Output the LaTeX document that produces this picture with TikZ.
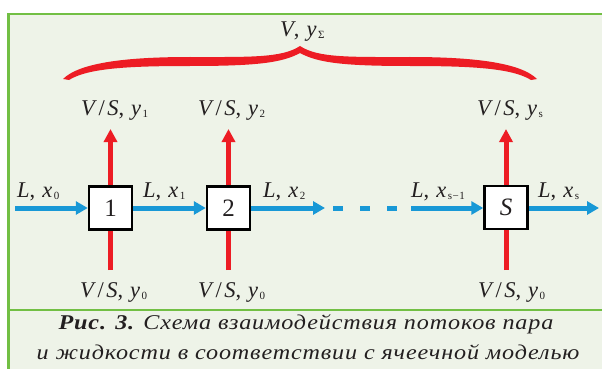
\documentclass[tikz,border=0pt]{standalone}
\usepackage{fontspec}
\setmainfont{Liberation Serif}
\newfontfamily\capfont[FakeStretch=1.15,LetterSpace=4]{Liberation Serif}
\usetikzlibrary{arrows.meta}
\definecolor{cred}{RGB}{237,28,36}
\definecolor{cblue}{RGB}{24,152,214}
\definecolor{cgreen}{RGB}{114,191,68}
\definecolor{cbg}{RGB}{238,243,232}
\definecolor{ctext}{RGB}{35,31,32}
\newcommand{\sbs}[1]{\kern1.5pt\raisebox{-2.5pt}{\fontsize{11}{12}\selectfont #1}}
\newcommand{\Vs}[1]{\textit{V}\kern1.5pt/\kern2.5pt\textit{S},\kern7pt\textit{y}\sbs{#1}}
\newcommand{\Lx}[1]{\textit{L},\kern7pt\textit{x}\sbs{#1}}
\begin{document}
\begin{tikzpicture}[x=1pt,y=-1pt,
  cellbox/.style={draw=black,fill=white,line width=2.5pt,minimum size=43pt,inner sep=0pt,font=\fontsize{25}{27}\selectfont,text=ctext},
  liq/.style={cblue,line width=5pt,-{Triangle[length=12pt,width=13pt]}},
  liqdash/.style={cblue,line width=5pt,dash pattern=on 10pt off 17pt},
  vapup/.style={cred,line width=5pt,-{Triangle[length=13pt,width=13pt]}},
  vapin/.style={cred,line width=5pt},
  lbl/.style={text=ctext,font=\fontsize{22.5}{24}\selectfont,inner sep=0pt,anchor=base west},
  captxt/.style={text=ctext,font=\fontsize{21}{24}\selectfont\capfont\itshape,inner sep=0pt,anchor=base}]
\useasboundingbox (0,0) rectangle (602,369);
\fill[white] (0,0) rectangle (602,369);
\draw[cgreen,line width=2.5pt,fill=cbg] (8.5,14) rectangle (625,400);
\draw[cgreen,line width=2.5pt] (8.5,310) -- (625,310);
% brace
\fill[cred] (63,79) .. controls (80,62) and (130,57) .. (190,57)
  .. controls (250,57) and (282,58) .. (300,46)
  .. controls (318,58) and (350,57) .. (410,57)
  .. controls (470,57) and (520,62) .. (537,79)
  -- (531,80)
  .. controls (512,68) and (470,66) .. (410,66)
  .. controls (345,66) and (318,63) .. (300,53)
  .. controls (282,63) and (255,66) .. (190,66)
  .. controls (130,66) and (88,68) .. (69,80) -- cycle;
\node[lbl] (vsum) at (280,36.5) {\textit{V},\kern7pt\textit{y}\sbs{Σ}};
% cells
\node[cellbox] (b1) at (110.5,208) {1};
\node[cellbox] (b2) at (228.5,208) {2};
\node[cellbox] (bs) at (506,207.5) {\textit{S}};
% liquid flow
\coordinate (lin) at (15,208);
\coordinate (l2out) at (325,208);
\coordinate (d1) at (333,208);
\coordinate (d2) at (400,208);
\coordinate (lsin) at (411,208);
\coordinate (lout) at (599,208);
\draw[liq] (lin) -- (b1.west);
\draw[liq] (b1.east) -- (b2.west);
\draw[liq] (b2.east) -- (l2out);
\draw[liqdash] (d1) -- (d2);
\draw[liq] (lsin) -- (bs.west |- lsin);
\draw[liq] (bs.east |- lout) -- (lout);
% vapour flow
\coordinate (u1) at (110.5,129);
\coordinate (u2) at (228.5,129);
\coordinate (us) at (506,129);
\coordinate (i1) at (110.5,270);
\coordinate (i2) at (228.5,270);
\coordinate (is) at (506,270);
\draw[vapup] (b1.north) -- (u1);
\draw[vapup] (b2.north) -- (u2);
\draw[vapup] (bs.north) -- (us);
\draw[vapin] (i1) -- (b1.south);
\draw[vapin] (i2) -- (b2.south);
\draw[vapin] (is) -- (bs.south);
% labels
\node[lbl] (t1) at (81,115) {\Vs{1}};
\node[lbl] (t2) at (198,115) {\Vs{2}};
\node[lbl] (ts) at (477,115) {\Vs{s}};
\node[lbl] (o1) at (80,297) {\Vs{0}};
\node[lbl] (o2) at (198,297) {\Vs{0}};
\node[lbl] (os) at (478,297) {\Vs{0}};
\node[lbl] (x0) at (17,197) {\Lx{0}};
\node[lbl] (x1) at (143,197) {\Lx{1}};
\node[lbl] (x2) at (263,197) {\Lx{2}};
\node[lbl] (xs1) at (411,197) {\Lx{s\kern0.5pt−\kern0.5pt1}};
\node[lbl] (xs) at (538,197) {\Lx{s}};
% caption
\node[captxt] (c1) at (306,329) {\textbf{Рис. 3.} Схема взаимодействия потоков пара};
\node[captxt] (c2) at (308,359) {и жидкости в соответствии с ячеечной моделью};
\end{tikzpicture}
\end{document}
